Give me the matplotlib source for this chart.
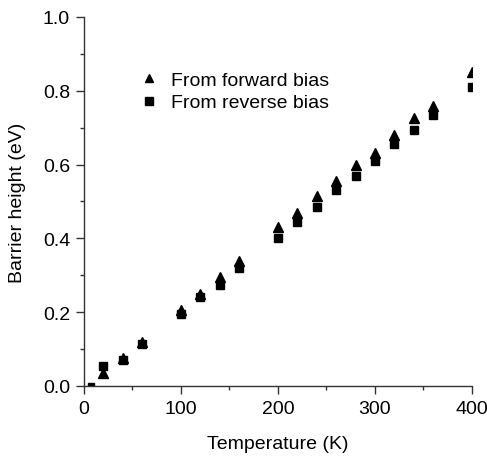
import matplotlib
matplotlib.use("Agg")
import matplotlib.pyplot as plt
from matplotlib.ticker import MultipleLocator

plt.rcParams['font.family'] = ['Liberation Sans', 'DejaVu Sans']

# temperatures (K)
temp = [20, 40, 60, 100, 120, 140, 160, 200, 220, 240, 260, 280, 300, 320, 340, 360, 400]
# barrier height from forward bias (eV)
phi_forward = [0.035, 0.075, 0.12, 0.205, 0.25, 0.295, 0.34, 0.43, 0.47, 0.515,
               0.555, 0.60, 0.63, 0.68, 0.725, 0.76, 0.85]
# barrier height from reverse bias (eV)
phi_reverse = [0.055, 0.07, 0.115, 0.195, 0.24, 0.275, 0.32, 0.40, 0.445, 0.485,
               0.53, 0.57, 0.61, 0.655, 0.695, 0.735, 0.81]
# low temperature point sitting on the axis
temp_low = [7]
phi_low = [0.0]

fig = plt.figure(figsize=(4.87, 4.60), dpi=100)
ax = fig.add_axes([0.1725, 0.1587, 0.7965, 0.8023])

ax.plot(temp, phi_forward, linestyle='none', marker='^', markersize=7.5,
        color='black', label='From forward bias')
ax.plot(temp, phi_reverse, linestyle='none', marker='s', markersize=6,
        color='black', label='From reverse bias')
ax.plot(temp_low, phi_low, linestyle='none', marker='s', markersize=4,
        color='black')

ax.set_xlim(0, 400)
ax.set_ylim(0, 1.0)
ax.xaxis.set_major_locator(MultipleLocator(100))
ax.xaxis.set_minor_locator(MultipleLocator(50))
ax.yaxis.set_major_locator(MultipleLocator(0.2))
ax.yaxis.set_minor_locator(MultipleLocator(0.1))
ax.yaxis.set_major_formatter(matplotlib.ticker.FormatStrFormatter('%.1f'))

for side in ['top', 'right']:
    ax.spines[side].set_visible(False)
for side in ['left', 'bottom']:
    ax.spines[side].set_color('#333333')
    ax.spines[side].set_linewidth(1.0)

ax.tick_params(which='major', direction='out', length=6, width=1.0,
               labelsize=14, color='#333333', pad=4)
ax.tick_params(which='minor', direction='out', length=3, width=1.0, color='#333333')

ax.set_xlabel('Temperature (K)', fontsize=14, labelpad=13)
ax.set_ylabel('Barrier height (eV)', fontsize=14, labelpad=12)

ax.legend(loc='upper left', bbox_to_anchor=(0.085, 0.9), frameon=False,
          fontsize=14, handletextpad=0.4, labelspacing=0.25, handlelength=1.5,
          markerscale=0.85)

plt.savefig('out.png', dpi=100)
